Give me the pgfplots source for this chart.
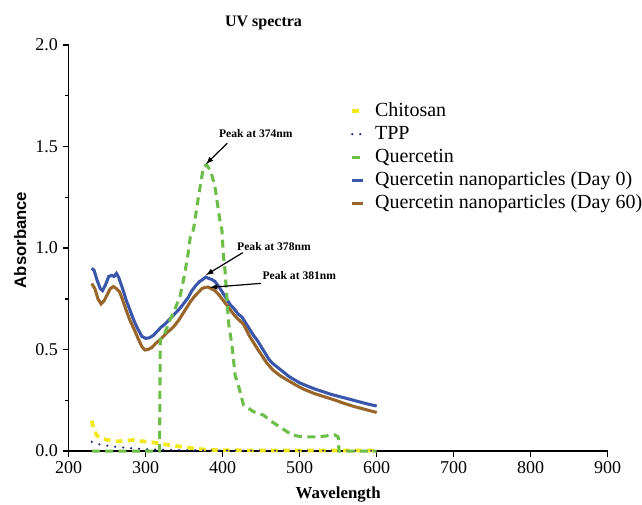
\documentclass[border=0pt]{standalone}
\usepackage{fontspec}
\setmainfont{Liberation Serif}
\newfontfamily\arialfont{Liberation Sans}
\newfontfamily\timesfont{Liberation Serif}
\usepackage{pgfplots}
\pgfplotsset{compat=1.18}
\definecolor{cblue}{RGB}{58,86,170}
\definecolor{cbrown}{RGB}{152,102,42}
\definecolor{cgreen}{RGB}{108,190,72}
\definecolor{cyellow}{RGB}{242,232,30}
\definecolor{cnavy}{RGB}{30,36,122}
\begin{document}
\begin{tikzpicture}
\begin{axis}[
  scale only axis, width=404.25pt, height=304.5pt,
  xmin=200, xmax=900, ymin=0, ymax=2,
  axis x line*=bottom, axis y line*=left,
  axis line style={line width=1.1pt, black},
  xtick={200,300,400,500,600,700,800,900},
  xticklabels={200,300,400,500,600,700,800,900},
  ytick={0,0.5,1,1.5,2},
  yticklabels={0.0,0.5,1.0,1.5,2.0},
  minor ytick={0.25,0.75,1.25,1.75},
  tick align=outside, major tick length=4.5pt, minor tick length=2.5pt,
  tick style={line width=1.1pt, black},
  ticklabel style={font=\timesfont\fontsize{13.5}{15}\selectfont},
  clip=false,
  legend style={at={(axis description cs:0.522,0.8635)}, anchor=north west, draw=none, fill=none,
    inner sep=0pt, font=\timesfont\fontsize{15}{17}\selectfont, row sep=1.8pt, column sep=6.5pt,
    nodes={inner sep=1pt, text height=10.5pt, text depth=3pt}},
  legend cell align=left,
  legend image code/.code={\draw[#1] (0pt,0pt) -- (8.25pt,0pt);},
]
\addplot[cyellow, line width=2.8pt, dash pattern=on 5pt off 4pt] coordinates {
(230,0.15)(233,0.10)(237,0.075)(242,0.063)(250,0.055)(262,0.048)(275,0.05)(284,0.055)
(292,0.05)(301,0.046)(310,0.042)(318,0.038)(330,0.03)(340,0.025)(350,0.02)(362,0.013)
(380,0.006)(400,0.004)(450,0.003)(500,0.003)(550,0.003)(600,0.003)};
\addlegendentry{Chitosan}
\addplot[cnavy, line width=1.8pt, line cap=round, dash pattern=on 0pt off 6pt] coordinates {
(230,0.045)(240,0.033)(251,0.026)(262,0.02)(275,0.016)(284,0.013)(301,0.009)(320,0.007)
(340,0.005)(380,0.003)(450,0.002)(500,0.002)(600,0.002)};
\addlegendentry{TPP}
\addlegendimage{cgreen, line width=2.3pt, dash pattern=on 6pt off 4pt}
\addlegendentry{Quercetin}
\addplot[cblue, line width=2.3pt] coordinates {
(230,0.90)(233,0.89)(237,0.84)(241,0.80)(244,0.79)(248,0.82)(252,0.86)(256,0.865)(259,0.86)
(262,0.875)(265,0.855)(270,0.80)(275,0.74)(280,0.69)(285,0.64)(290,0.60)(295,0.565)(300,0.555)
(305,0.558)(310,0.57)(315,0.59)(320,0.61)(325,0.625)(330,0.645)(335,0.665)(340,0.685)(345,0.705)
(350,0.73)(355,0.755)(360,0.79)(365,0.815)(370,0.835)(374,0.845)(378,0.857)(382,0.85)(386,0.845)
(390,0.835)(395,0.81)(400,0.78)(405,0.75)(410,0.72)(415,0.70)(420,0.675)(425,0.66)(430,0.63)
(435,0.60)(440,0.57)(445,0.545)(450,0.514)(455,0.483)(460,0.452)(465,0.431)(470,0.416)
(475,0.401)(480,0.386)(485,0.37)(490,0.358)(495,0.347)(500,0.336)(510,0.32)(520,0.305)
(530,0.293)(540,0.28)(550,0.27)(560,0.26)(570,0.25)(580,0.24)(590,0.23)(600,0.222)};
\addlegendentry{Quercetin nanoparticles (Day 0)}
\addplot[cbrown, line width=2.3pt] coordinates {
(230,0.825)(234,0.80)(238,0.75)(242,0.725)(246,0.74)(250,0.77)(254,0.80)(258,0.81)(262,0.80)
(266,0.785)(270,0.745)(275,0.69)(280,0.64)(285,0.60)(290,0.555)(295,0.515)(299,0.498)(303,0.50)
(308,0.51)(313,0.53)(318,0.547)(323,0.565)(328,0.585)(333,0.60)(338,0.62)(343,0.645)(348,0.675)
(353,0.705)(358,0.735)(363,0.76)(368,0.78)(373,0.80)(377,0.806)(381,0.808)(385,0.80)(390,0.79)
(395,0.77)(400,0.745)(405,0.72)(410,0.695)(415,0.67)(420,0.65)(427,0.625)(435,0.565)(445,0.504)
(457.6,0.432)(465,0.40)(475,0.37)(483.8,0.35)(495,0.325)(505,0.305)(518.5,0.284)(530,0.27)
(545,0.252)(557.6,0.235)(570,0.22)(585,0.205)(600,0.19)};
\addlegendentry{Quercetin nanoparticles (Day 60)}
\addplot[cgreen, line width=2.3pt, dash pattern=on 6pt off 4pt, forget plot] coordinates {
(230,0)(250,0)(270,0)(290,0)(310,0)(318,0)(318.5,0.30)(319,0.55)(323,0.565)(331.6,0.645)
(337,0.69)(344.5,0.76)(350,0.86)(355,0.97)(358,1.056)(362,1.09)(368.6,1.253)(375,1.40)
(379,1.41)(384.5,1.38)(390,1.30)(397,1.12)(399,1.089)(401,0.957)(403,0.89)(407.7,0.629)
(412,0.522)(416.4,0.366)(418.6,0.35)(427,0.227)(440,0.194)(453,0.177)(464,0.144)(477,0.112)
(490,0.079)(500,0.072)(510,0.07)(525,0.07)(535,0.075)(545,0.08)(550,0.07)(551,0)(575,0)(600,0)};
\node[anchor=base, font=\timesfont\bfseries\fontsize{8.7}{10}\selectfont] at (axis cs:443,1.543) {Peak at 374nm};
\node[anchor=base, font=\timesfont\bfseries\fontsize{8.7}{10}\selectfont] at (axis cs:466.6,0.990) {Peak at 378nm};
\node[anchor=base, font=\timesfont\bfseries\fontsize{8.7}{10}\selectfont] at (axis cs:499.5,0.847) {Peak at 381nm};
\draw[-latex, line width=0.9pt] (axis cs:406,1.516) -- (axis cs:378.3,1.414);
\draw[-latex, line width=0.9pt] (axis cs:426,0.977) -- (axis cs:378.3,0.867);
\draw[-latex, line width=0.9pt] (axis cs:449.7,0.826) -- (axis cs:383.4,0.806);
\node[anchor=base, font=\timesfont\bfseries\fontsize{12}{14}\selectfont] at ([yshift=14.25pt]axis cs:453,2) {UV spectra};
\node[anchor=base, font=\timesfont\bfseries\fontsize{12.6}{14}\selectfont] at ([yshift=-35.5pt]rel axis cs:0.5,0) {Wavelength};
\node[anchor=base, rotate=90, font=\arialfont\bfseries\fontsize{12.5}{14}\selectfont] at ([xshift=-32pt]rel axis cs:0,0.52) {Absorbance};
\end{axis}
\pgfresetboundingbox
\path[use as bounding box] ([xshift=-51.5pt,yshift=-39.75pt]current axis.south west) rectangle ([xshift=25.7pt,yshift=33.75pt]current axis.north east);
\end{tikzpicture}
\end{document}
